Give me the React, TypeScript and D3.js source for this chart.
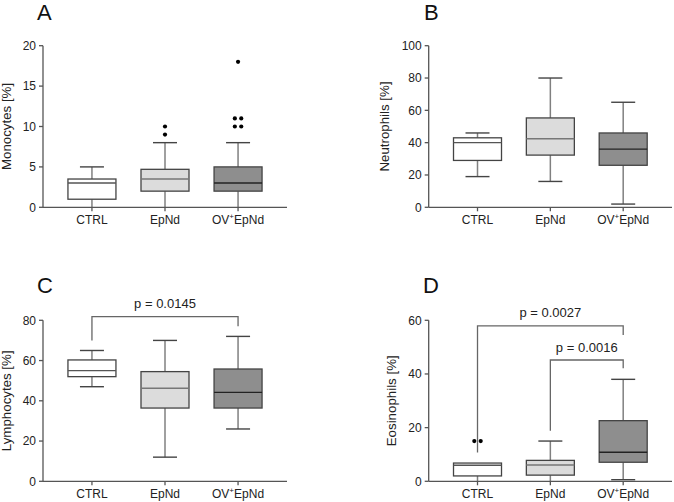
import React from "react";
import * as d3 from "d3";

const categories = ["CTRL", "EpNd", "OV+EpNd"];

// [whisker low, Q1, median, Q3, whisker high]
const monocytesStats: number[][] = [
  [0, 1, 3, 3.5, 5],
  [0, 2, 3.5, 4.7, 8],
  [0, 2, 3, 5, 8],
];
const monocytesOutliers: number[][] = [[], [9, 10], [10, 10, 11, 11, 18]];
const monocytesTicks = [0, 5, 10, 15, 20];

const neutrophilsStats: number[][] = [
  [19, 29, 40, 43, 46],
  [16, 32.3, 42.4, 55.3, 80],
  [2, 26, 36, 46, 65],
];
const neutrophilsOutliers: number[][] = [[], [], []];
const neutrophilsTicks = [0, 20, 40, 60, 80, 100];

const lymphocytesStats: number[][] = [
  [47, 52, 55, 60.3, 65],
  [12, 36.4, 46.2, 54.5, 70],
  [26, 36.4, 44.2, 55.8, 72],
];
const lymphocytesOutliers: number[][] = [[], [], []];
const lymphocytesTicks = [0, 20, 40, 60, 80];
const lymphocytesBrackets = [
  { from: 0, to: 2, bar: 81.8, left: 70, right: 77, label: "p = 0.0145" },
];

const eosinophilsStats: number[][] = [
  [0, 2, 6, 6.8, 6.8],
  [0, 2.3, 6.1, 7.8, 15],
  [0.6, 7.1, 10.8, 22.6, 38],
];
const eosinophilsOutliers: number[][] = [[15, 15], [], []];
const eosinophilsTicks = [0, 20, 40, 60];
const eosinophilsBrackets = [
  { from: 0, to: 2, bar: 57.9, left: 10.7, right: 54.5, label: "p = 0.0027" },
  { from: 1, to: 2, bar: 45.2, left: 18.8, right: 42.1, label: "p = 0.0016" },
];

const FONT = "'Liberation Sans', Arial, Helvetica, sans-serif";
const fills = ["#ffffff", "#dcdcdc", "#8e8e8e"];
const medianColors = ["#555555", "#777777", "#222222"];

type Bracket = { from: number; to: number; bar: number; left: number; right: number; label: string };

function CatLabel({ name, x, y }: { name: string; x: number; y: number }) {
  if (name.includes("+")) {
    const [a, b] = name.split("+");
    return (
      <text x={x} y={y} textAnchor="middle" fontSize={12} fontFamily={FONT} fill="#222">
        {a}
        <tspan fontSize={8} dy={-5}>+</tspan>
        <tspan dy={5}>{b}</tspan>
      </text>
    );
  }
  return (
    <text x={x} y={y} textAnchor="middle" fontSize={12} fontFamily={FONT} fill="#222">
      {name}
    </text>
  );
}

function Panel(props: {
  x0: number; x1: number; yTop: number; yBottom: number;
  yMax: number; ticks: number[]; stats: number[][]; outliers: number[][];
  yLabel: string; labelOffset: number; letter: string; letterX: number; letterY: number;
  brackets?: Bracket[];
}) {
  const { x0, x1, yTop, yBottom, yMax, ticks, stats, outliers, yLabel, labelOffset, letter, letterX, letterY, brackets = [] } = props;
  const x = d3.scalePoint<string>().domain(categories).range([x0, x1]).padding(0.67);
  const y = d3.scaleLinear().domain([0, yMax]).range([yBottom, yTop]);
  const boxW = 48;
  const capW = 24;
  const axisColor = "#555";
  return (
    <g>
      <text x={letterX} y={letterY} fontSize={22} fontFamily={FONT} fill="#111">{letter}</text>
      <text
        transform={`translate(${x0 - labelOffset},${(yTop + yBottom) / 2}) rotate(-90)`}
        textAnchor="middle" fontSize={13.3} fontFamily={FONT} fill="#222"
      >{yLabel}</text>
      {brackets.map((b, i) => {
        const xl = x(categories[b.from])!;
        const xr = x(categories[b.to])!;
        return (
          <g key={"br" + i}>
            <path
              d={`M${xl},${y(b.left)}V${y(b.bar)}H${xr}V${y(b.right)}`}
              fill="none" stroke="#666" strokeWidth={1.3}
            />
            <text x={(xl + xr) / 2} y={y(b.bar) - 8.5} textAnchor="middle" fontSize={13} fontFamily={FONT} fill="#222">{b.label}</text>
          </g>
        );
      })}
      {stats.map((s, i) => {
        const cx = x(categories[i])!;
        const [lo, q1, med, q3, hi] = s;
        return (
          <g key={"bx" + i}>
            <line x1={cx} x2={cx} y1={y(q3)} y2={y(hi)} stroke="#808080" strokeWidth={1.5} />
            <line x1={cx} x2={cx} y1={y(q1)} y2={y(lo)} stroke="#808080" strokeWidth={1.5} />
            {hi > q3 && <line x1={cx - capW / 2} x2={cx + capW / 2} y1={y(hi)} y2={y(hi)} stroke="#444" strokeWidth={1.4} />}
            {lo < q1 && lo > 0 && <line x1={cx - capW / 2} x2={cx + capW / 2} y1={y(lo)} y2={y(lo)} stroke="#444" strokeWidth={1.4} />}
            <rect x={cx - boxW / 2} y={y(q3)} width={boxW} height={y(q1) - y(q3)} fill={fills[i]} stroke="#444" strokeWidth={1.3} />
            <line x1={cx - boxW / 2} x2={cx + boxW / 2} y1={y(med)} y2={y(med)} stroke={medianColors[i]} strokeWidth={1.4} />
            {outliers[i].map((v, j) => {
              const same = outliers[i].filter((w) => w === v);
              const k = outliers[i].slice(0, j).filter((w) => w === v).length;
              const dx = (k - (same.length - 1) / 2) * 6.4;
              return <circle key={j} cx={cx + dx} cy={y(v)} r={2.1} fill="#000" />;
            })}
          </g>
        );
      })}
      <line x1={x0} x2={x0} y1={yTop} y2={yBottom} stroke={axisColor} strokeWidth={1.3} />
      <line x1={x0} x2={x1} y1={yBottom} y2={yBottom} stroke={axisColor} strokeWidth={1.3} />
      {ticks.map((t) => (
        <g key={"t" + t}>
          <line x1={x0 - 4} x2={x0} y1={y(t)} y2={y(t)} stroke={axisColor} strokeWidth={1.3} />
          <text x={x0 - 7} y={y(t)} dy="0.35em" textAnchor="end" fontSize={12} fontFamily={FONT} fill="#222">{t}</text>
        </g>
      ))}
      {categories.map((c) => (
        <g key={"c" + c}>
          <line x1={x(c)!} x2={x(c)!} y1={yBottom} y2={yBottom + 4} stroke={axisColor} strokeWidth={1.3} />
          <CatLabel name={c} x={x(c)!} y={yBottom + 17} />
        </g>
      ))}
    </g>
  );
}

export default function App() {
  return (
    <svg width={674} height={502} style={{ position: "absolute", left: 0, top: 0, background: "#fff" }}>
      <rect width={674} height={502} fill="#fff" />
      <Panel x0={43} x1={287} yTop={45.7} yBottom={207.3} yMax={20} ticks={monocytesTicks}
        stats={monocytesStats} outliers={monocytesOutliers} yLabel="Monocytes [%]" labelOffset={31.8}
        letter="A" letterX={37} letterY={20} />
      <Panel x0={428.7} x1={672} yTop={45.7} yBottom={207.3} yMax={100} ticks={neutrophilsTicks}
        stats={neutrophilsStats} outliers={neutrophilsOutliers} yLabel="Neutrophils [%]" labelOffset={39.5}
        letter="B" letterX={424} letterY={20} />
      <Panel x0={43} x1={287} yTop={320.3} yBottom={481.3} yMax={80} ticks={lymphocytesTicks}
        stats={lymphocytesStats} outliers={lymphocytesOutliers} yLabel="Lymphocytes [%]" labelOffset={32}
        letter="C" letterX={37} letterY={292.7} brackets={lymphocytesBrackets} />
      <Panel x0={428.7} x1={672} yTop={320.3} yBottom={481.3} yMax={60} ticks={eosinophilsTicks}
        stats={eosinophilsStats} outliers={eosinophilsOutliers} yLabel="Eosinophils [%]" labelOffset={33}
        letter="D" letterX={423} letterY={292.7} brackets={eosinophilsBrackets} />
    </svg>
  );
}
